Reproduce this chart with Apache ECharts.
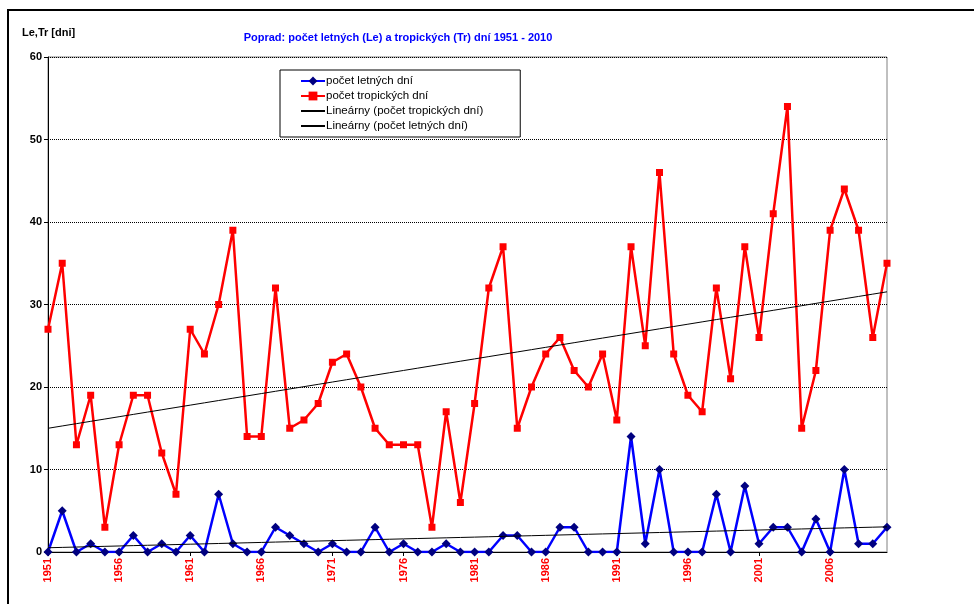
<!DOCTYPE html>
<html>
<head>
<meta charset="utf-8">
<script src="https://cdn.jsdelivr.net/npm/echarts@6/dist/echarts.min.js"></script>
<style>
html,body{margin:0;padding:0;background:#fff;}
#chart{width:974px;height:604px;}
</style>
</head>
<body>
<div id="chart"></div>
<script>
const years = [];
for (let y = 1951; y <= 2010; y++) years.push(String(y));

const letne = [0,5,0,1,0,0,2,0,1,0, 2,0,7,1,0,0,3,2,1,0, 1,0,0,3,0,1,0,0,1,0, 0,0,2,2,0,0,3,3,0,0, 0,14,1,10,0,0,0,7,0,8, 1,3,3,0,4,0,10,1,1,3];
const tropicke = [27,35,13,19,3,13,19,19,12,7, 27,24,30,39,14,14,32,15,16,18, 23,24,20,15,13,13,13,3,17,6, 18,32,37,15,20,24,26,22,20,24, 16,37,25,46,24,19,17,32,21,37, 26,41,54,15,22,39,44,39,26,35];

const seriesNames = ['počet letných dní','počet tropických dní','Lineárny (počet tropických dní)','Lineárny (počet letných dní)'];
const titleText = 'Poprad: počet letných (Le) a tropických (Tr) dní 1951 - 2010';
const yAxisTitle = 'Le,Tr [dni]';

function linearTrend(vals) {
  const n = vals.length;
  let sx = 0, sy = 0, sxx = 0, sxy = 0;
  for (let i = 0; i < n; i++) { sx += i; sy += vals[i]; sxx += i * i; sxy += i * vals[i]; }
  const b = (n * sxy - sx * sy) / (n * sxx - sx * sx);
  const a = (sy - b * sx) / n;
  return vals.map((_, i) => a + b * i);
}

const font = 'Arial, "Liberation Sans", sans-serif';
const hiddenSym = { color: 'rgba(0,0,0,0)', borderWidth: 0, opacity: 0 };
const chart = echarts.init(document.getElementById('chart'));
chart.setOption({
  animation: false,
  backgroundColor: '#fff',
  textStyle: { fontFamily: font },
  title: {
    text: titleText,
    left: 393, top: 27, textAlign: 'center',
    textStyle: { color: '#0000ff', fontSize: 11, fontWeight: 'bold', fontFamily: font }
  },
  graphic: [
    { type: 'rect', shape: { x: 8, y: 10, width: 1000, height: 700 }, style: { fill: 'none', stroke: '#000', lineWidth: 2 }, silent: true, z: 100 },
    { type: 'text', left: 22, top: 27, style: { text: yAxisTitle, fill: '#000', font: 'bold 11px ' + font } }
  ],
  legend: {
    orient: 'vertical',
    left: 280, top: 70,
    padding: [5, 37, 5, 20],
    itemGap: 3,
    itemWidth: 24, itemHeight: 11,
    borderColor: '#000', borderWidth: 1,
    backgroundColor: '#fff',
    data: [
      { name: seriesNames[0] },
      { name: seriesNames[1] },
      { name: seriesNames[2], itemStyle: hiddenSym },
      { name: seriesNames[3], itemStyle: hiddenSym }
    ],
    textStyle: { fontSize: 11.5, color: '#000', fontFamily: font, padding: [0,0,0,-4] }
  },
  grid: { left: 48, right: 87, top: 57, bottom: 52, show: true, borderColor: '#808080', borderWidth: 1, backgroundColor: 'transparent' },
  xAxis: {
    type: 'category',
    data: years,
    boundaryGap: false,
    axisLine: { lineStyle: { color: '#000', width: 1 } },
    axisTick: { interval: 4, length: 4, lineStyle: { color: '#000' } },
    axisLabel: { interval: 4, rotate: 90, color: '#ff0000', fontWeight: 'bold', fontSize: 11, margin: 6, fontFamily: font },
    splitLine: { show: false }
  },
  yAxis: {
    type: 'value',
    min: 0, max: 60, interval: 10,
    axisLine: { show: true, lineStyle: { color: '#000', width: 1 } },
    axisTick: { show: true, length: 4, lineStyle: { color: '#000' } },
    axisLabel: { color: '#000', fontWeight: 'bold', fontSize: 11, margin: 6, fontFamily: font },
    splitLine: { show: true, lineStyle: { color: '#000', type: [1, 1], width: 1 } }
  },
  series: [
    {
      name: seriesNames[0], type: 'line', data: letne,
      symbol: 'diamond', symbolSize: 9,
      itemStyle: { color: '#000080' },
      lineStyle: { color: '#0000ff', width: 2.5 },
      z: 3
    },
    {
      name: seriesNames[1], type: 'line', data: tropicke,
      symbol: 'rect', symbolSize: 7,
      itemStyle: { color: '#ff0000' },
      lineStyle: { color: '#ff0000', width: 2.5 },
      z: 2
    },
    {
      name: seriesNames[2], type: 'line', data: linearTrend(tropicke),
      symbol: 'none', showSymbol: false,
      itemStyle: { color: '#000' },
      lineStyle: { color: '#000', width: 1 },
      z: 4
    },
    {
      name: seriesNames[3], type: 'line', data: linearTrend(letne),
      symbol: 'none', showSymbol: false,
      itemStyle: { color: '#000' },
      lineStyle: { color: '#000', width: 1 },
      z: 4
    }
  ]
});
</script>
</body>
</html>
